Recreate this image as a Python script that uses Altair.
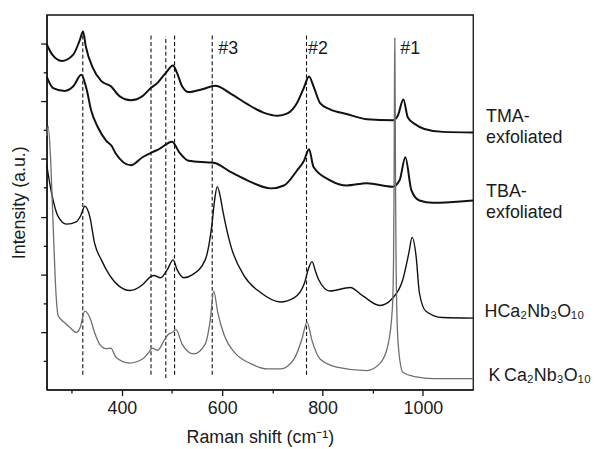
import altair as alt
import pandas as pd

# ---- spectra (Raman shift in cm^-1, offset intensity in a.u.) ----
x_tma = [250, 262, 280, 303, 316, 322.5, 328, 342, 359, 378, 395, 418, 441, 457.5, 471, 487,
         502, 510, 520, 533, 560, 586, 617.5, 650, 683.5, 710, 730, 749, 762.5, 773, 782, 795,
         815, 848, 888, 940, 950, 961, 970, 985, 1003, 1040, 1100]
y_tma = [5.99, 5.80, 5.70, 5.81, 6.06, 6.21, 5.95, 5.58, 5.35, 5.26, 5.09, 5.02, 5.09, 5.23, 5.32, 5.49,
         5.62, 5.49, 5.26, 5.16, 5.21, 5.27, 5.13, 4.95, 4.80, 4.75, 4.79, 4.97, 5.23, 5.43, 5.26, 4.97,
         4.86, 4.78, 4.69, 4.67, 4.75, 5.03, 4.72, 4.60, 4.52, 4.47, 4.46]

x_tba = [250, 263, 286, 303, 319, 329, 339, 352, 368.5, 380, 388, 418, 441, 461, 474, 500, 514,
         533, 573, 585, 617.5, 650, 697, 723, 749, 763, 773, 782, 815, 848, 888, 940, 953.5, 965,
         977, 993, 1019.5, 1100]
y_tba = [5.43, 5.23, 5.18, 5.26, 5.46, 5.23, 4.83, 4.55, 4.32, 4.22, 4.09, 3.89, 4.03, 4.12, 4.17, 4.30, 4.12,
         3.97, 3.94, 3.93, 3.77, 3.63, 3.49, 3.54, 3.80, 3.97, 4.17, 3.86, 3.63, 3.54, 3.58, 3.52, 3.63, 4.03,
         3.46, 3.28, 3.24, 3.28]

x_h = [250, 260, 273, 289.5, 309, 318, 326, 336, 345.5, 359, 375, 395, 416, 441, 457.5, 464, 477,
       490.5, 502, 510, 523.5, 540, 566, 579, 585, 590, 596, 601, 617.5, 644, 677, 716, 743, 764,
       772, 779, 786, 792, 815, 855, 881, 914, 940, 960, 972, 978.5, 986.5, 993, 1006, 1039, 1100]
y_h = [3.90, 3.40, 3.00, 2.87, 2.91, 3.02, 3.18, 3.00, 2.54, 2.25, 1.99, 1.79, 1.72, 1.82, 1.96, 1.98, 1.94,
       2.08, 2.25, 2.08, 1.94, 1.99, 2.25, 2.83, 3.30, 3.52, 3.35, 3.11, 2.48, 1.97, 1.68, 1.52, 1.59, 1.85,
       2.10, 2.22, 2.05, 1.91, 1.71, 1.77, 1.62, 1.46, 1.59, 1.91, 2.37, 2.64, 2.31, 1.68, 1.36, 1.25, 1.24]

x_k = [250, 253, 258, 263, 268.5, 273, 286, 296, 309, 317, 326, 336, 345.5, 355.5, 368.5, 378, 388,
       415, 441, 454, 461, 471, 484, 492.5, 500, 508, 520, 543, 566, 576, 583, 591, 604.5, 624, 657,
       690, 716, 743, 759, 769, 779, 795, 828, 888, 914, 930, 939, 941.5, 942.5, 943.5, 944, 944.5,
       945.5, 946.5, 948, 951, 960, 986.5, 1019.5, 1100]
y_k = [4.40, 4.57, 3.97, 2.83, 1.68, 1.28, 1.16, 1.08, 0.99, 1.08, 1.36, 1.25, 0.99, 0.79, 0.71, 0.72, 0.56,
       0.46, 0.53, 0.65, 0.72, 0.68, 0.85, 0.96, 0.99, 1.04, 0.79, 0.62, 0.79, 1.20, 1.71, 1.34, 0.93, 0.65, 0.45,
       0.36, 0.36, 0.53, 0.88, 1.17, 0.85, 0.53, 0.39, 0.33, 0.45, 0.76, 1.39, 2.25, 3.50, 5.50, 6.10, 5.50,
       3.50, 2.25, 1.39, 0.76, 0.30, 0.22, 0.19, 0.19]

# dashed guide lines
dash_x = [322, 458, 487.5, 505, 580, 768]
dash_y0 = [0.26, 0.26, 0.20, 0.26, 0.26, 0.26]
dash_y1 = [6.18, 6.18, 6.13, 6.18, 6.18, 6.18]

# peak markers
peak_text = ["#3", "#2", "#1"]
peak_x = [592, 771, 955]
peak_y = [5.82, 5.82, 5.82]

# sample labels
lab_text = ["TMA-", "exfoliated", "TBA-", "exfoliated", "HCa₂Nb₃O₁₀", "K\u2009Ca₂Nb₃O₁₀"]
lab_x = [1126, 1126, 1126, 1126, 1123, 1131]
lab_y = [4.648, 4.270, 3.341, 2.975, 1.267, 0.143]

x_ticks = [300, 400, 500, 600, 700, 800, 900, 1000]
y_ticks = [0.5 * i for i in range(1, 13)]

FONT = "Liberation Sans"

xscale = alt.Scale(domain=[250, 1100], nice=False, zero=False)
yscale = alt.Scale(domain=[0, 6.5], nice=False, zero=False)

xaxis = alt.Axis(
    values=x_ticks, grid=False, title="Raman shift (cm⁻¹)", format="d",
    labelExpr="datum.value % 200 === 0 ? datum.label : ''",
    tickSize={"condition": {"test": "datum.value % 200 === 0", "value": 6}, "value": 3.5},
    labelPadding=4, titlePadding=11, labelFontSize=18, titleFontSize=18,
)
yaxis = alt.Axis(
    values=y_ticks, grid=False, labels=False, title="Intensity (a.u.)",
    tickSize={"condition": {"test": "datum.value % 1 === 0", "value": 6}, "value": 3.5},
    titlePadding=12, titleFontSize=18,
)

series = [
    (x_tma, y_tma, "#111111", 2.0),
    (x_tba, y_tba, "#111111", 2.0),
    (x_h, y_h, "#111111", 1.4),
    (x_k, y_k, "#6e6e6e", 1.3),
]

layers = []
for xs, ys, color, w in series:
    df = pd.DataFrame({"x": xs, "y": ys})
    layers.append(
        alt.Chart(df).mark_line(color=color, strokeWidth=w, interpolate="monotone").encode(
            x=alt.X("x:Q", scale=xscale, axis=xaxis),
            y=alt.Y("y:Q", scale=yscale, axis=yaxis),
        )
    )

dash_df = pd.DataFrame({"x": dash_x, "y0": dash_y0, "y1": dash_y1})
dashes = alt.Chart(dash_df).mark_rule(color="#111111", strokeWidth=1.1, strokeDash=[4, 2.5]).encode(
    x=alt.X("x:Q", scale=xscale, axis=xaxis),
    y=alt.Y("y0:Q", scale=yscale, axis=yaxis),
    y2="y1:Q",
)

peak_df = pd.DataFrame({"x": peak_x, "y": peak_y, "t": peak_text})
peaks = alt.Chart(peak_df).mark_text(align="left", baseline="alphabetic", fontSize=18,
                                     font=FONT, color="#1a1a1a").encode(
    x=alt.X("x:Q", scale=xscale, axis=xaxis),
    y=alt.Y("y:Q", scale=yscale, axis=yaxis),
    text="t:N",
)

lab_df = pd.DataFrame({"x": lab_x, "y": lab_y, "t": lab_text})
labels = alt.Chart(lab_df).mark_text(align="left", baseline="alphabetic", fontSize=18,
                                     font=FONT, color="#1a1a1a").encode(
    x=alt.X("x:Q", scale=xscale, axis=xaxis),
    y=alt.Y("y:Q", scale=yscale, axis=yaxis),
    text="t:N",
)

chart = alt.layer(dashes, *layers, peaks, labels).properties(
    width=430, height=378,
    autosize=alt.AutoSizeParams(type="none"),
    padding={"left": 39, "top": 5, "right": 126, "bottom": 57},
).configure_view(
    stroke="#111111", strokeWidth=1.3
).configure_axis(
    domainColor="#111111", domainWidth=1.3, tickColor="#111111", tickWidth=1.3,
    labelFont=FONT, titleFont=FONT, labelColor="#1a1a1a", titleColor="#1a1a1a",
    titleFontWeight="normal",
)

chart.save("out.html", embed_options={"renderer": "svg", "actions": False})
